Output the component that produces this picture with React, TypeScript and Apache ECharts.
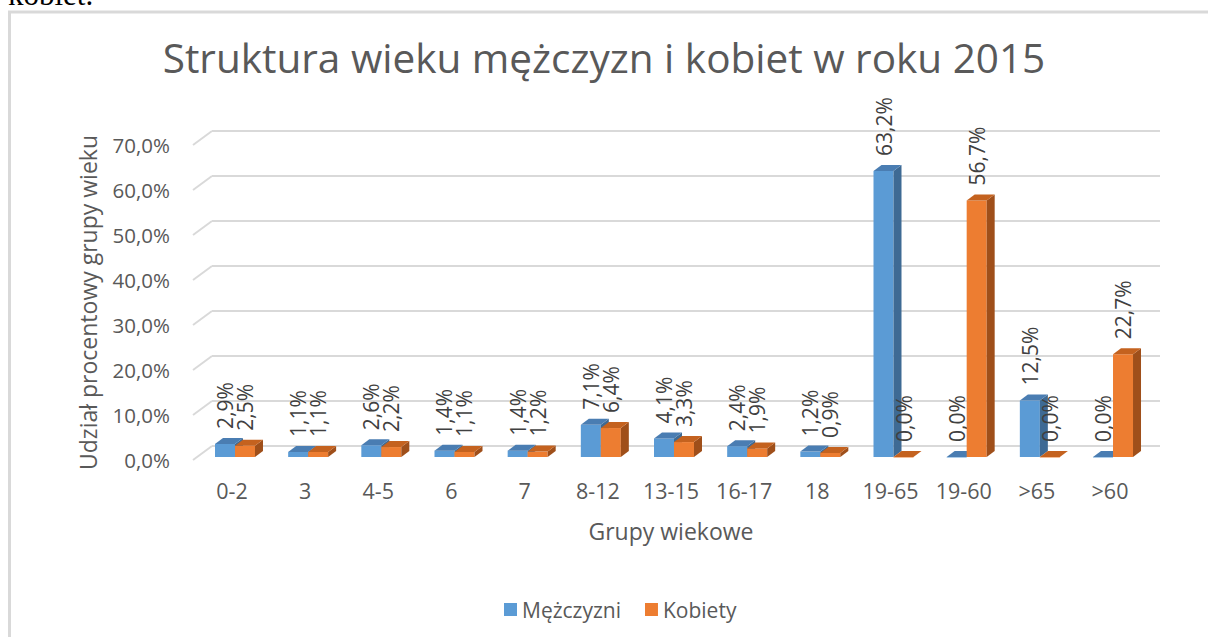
import React, { useEffect, useRef } from "react";
import * as echarts from "echarts";

const categories = ["0-2", "3", "4-5", "6", "7", "8-12", "13-15", "16-17", "18", "19-65", "19-60", ">65", ">60"];
const men = [2.9, 1.1, 2.6, 1.4, 1.4, 7.1, 4.1, 2.4, 1.2, 63.2, 0.0, 12.5, 0.0];
const women = [2.5, 1.1, 2.2, 1.1, 1.2, 6.4, 3.3, 1.9, 0.9, 0.0, 56.7, 0.0, 22.7];
const yTicks = [0, 10, 20, 30, 40, 50, 60, 70];
const seriesNames = ["Mężczyzni", "Kobiety"];
const titleText = "Struktura wieku mężczyzn i kobiet w roku 2015";
const xTitle = "Grupy wiekowe";
const yTitle = "Udział procentowy grupy wieku";

const FONT = "Open Sans";
const W = 1208;
const H = 637;

const palette = [
  { front: "#5B9BD5", top: "#4A7DB2", side: "#3E6A94" },
  { front: "#ED7D31", top: "#C4621F", side: "#9F4F1A" },
];

const fmt = (v: number) => v.toFixed(1).replace(".", ",") + "%";

function barRenderer(sIdx: number) {
  return (params: any, api: any) => {
    const idx = api.value(0);
    const val = api.value(1);
    const base = api.coord([idx, 0]);
    const top = api.coord([idx, val]);
    const cx = base[0] + 3;
    const bw = 20;
    const D = 8;
    const HH = 6;
    const x0 = sIdx === 0 ? cx - bw : cx;
    const yt = top[1];
    const yb = base[1];
    const c = palette[sIdx];
    return {
      type: "group",
      children: [
        {
          type: "rect",
          shape: { x: x0, y: yt, width: bw, height: Math.max(yb - yt, 0.5) },
          style: { fill: c.front },
        },
        {
          type: "polygon",
          shape: { points: [[x0 + bw, yt], [x0 + bw + D, yt - HH], [x0 + bw + D, yb - HH], [x0 + bw, yb]] },
          style: { fill: c.side },
        },
        {
          type: "polygon",
          shape: { points: [[x0, yt], [x0 + bw, yt], [x0 + bw + D, yt - HH], [x0 + D, yt - HH]] },
          style: { fill: c.top },
        },
        {
          type: "text",
          x: x0 + bw / 2,
          y: yt - HH - 9,
          rotation: Math.PI / 2,
          style: {
            text: fmt(val),
            x: 0,
            y: 0,
            align: "left",
            verticalAlign: "middle",
            fill: "#404040",
            font: `21px "${FONT}"`,
          },
        },
      ],
    };
  };
}

export default function App() {
  const ref = useRef<HTMLDivElement>(null);
  useEffect(() => {
    if (!ref.current) return;
    const chart = echarts.init(ref.current, null, { renderer: "svg" });
    const option: any = {
      animation: false,
      backgroundColor: "#ffffff",
      textStyle: { fontFamily: FONT },
      title: {
        text: titleText,
        left: "center",
        top: 32,
        textStyle: { fontFamily: FONT, fontSize: 40.5, fontWeight: "normal", color: "#595959" },
      },
      legend: {
        data: seriesNames.map((n) => ({ name: n, icon: "rect" })),
        left: 499,
        top: 594,
        itemWidth: 13,
        itemHeight: 13,
        itemGap: 24,
        textStyle: { fontFamily: FONT, fontSize: 21, color: "#595959" },
      },
      graphic: [
        {
          type: "rect",
          shape: { x: 9.5, y: 12, width: 1400, height: 900 },
          style: { fill: "none", stroke: "#d9d9d9", lineWidth: 3 },
          silent: true,
        },
        {
          type: "text",
          x: 8,
          y: -6,
          style: { text: "kobiet.", fill: "#000", font: '31px "Liberation Serif"', verticalAlign: "middle", align: "left" },
        },
      ],
      grid: [
        { left: 193, right: W - 1141, top: 145, bottom: H - 460 },
        { left: 212, right: W - 1160, top: 131, bottom: H - 446 },
        { left: 195.4, right: W - 1146.6, top: 140.25, bottom: H - 457 },
      ],
      xAxis: [
        { type: "value", gridIndex: 0, min: 0, max: 1, show: false },
        { type: "value", gridIndex: 1, min: 0, max: 1, show: false },
        {
          type: "category",
          gridIndex: 2,
          data: categories,
          axisLine: { show: false },
          axisTick: { show: false },
          axisLabel: { fontFamily: FONT, fontSize: 21.5, color: "#595959", margin: 22, interval: 0 },
          name: xTitle,
          nameLocation: "middle",
          nameGap: 62,
          nameTextStyle: { fontFamily: FONT, fontSize: 23, color: "#595959" },
        },
      ],
      yAxis: [
        {
          type: "value",
          gridIndex: 0,
          min: 0,
          max: 70,
          interval: 10,
          axisLine: { show: false },
          axisTick: { show: false },
          splitLine: { show: false },
          axisLabel: { fontFamily: FONT, fontSize: 20.5, color: "#595959", margin: 23, formatter: (v: number) => fmt(v) },
          name: yTitle,
          nameLocation: "middle",
          nameGap: 94,
          nameTextStyle: { fontFamily: FONT, fontSize: 23, color: "#595959" },
        },
        {
          type: "value",
          gridIndex: 1,
          min: 0,
          max: 70,
          interval: 10,
          axisLine: { show: false },
          axisTick: { show: false },
          axisLabel: { show: false },
          splitLine: { show: true, lineStyle: { color: "#d9d9d9", width: 2 } },
        },
        {
          type: "value",
          gridIndex: 2,
          min: 0,
          max: 70,
          show: false,
          splitLine: { show: false },
        },
      ],
      series: [
        {
          type: "custom",
          xAxisIndex: 0,
          yAxisIndex: 0,
          silent: true,
          data: yTicks.map((v) => [0, v]),
          encode: { x: 0, y: 1 },
          renderItem: (params: any, api: any) => {
            const p = api.coord([0, api.value(1)]);
            return {
              type: "line",
              shape: { x1: p[0], y1: p[1], x2: p[0] + 19, y2: p[1] - 14 },
              style: { stroke: "#d9d9d9", lineWidth: 2 },
            };
          },
        },
        {
          name: seriesNames[0],
          type: "custom",
          xAxisIndex: 2,
          yAxisIndex: 2,
          itemStyle: { color: palette[0].front },
          data: men.map((v, i) => [i, v]),
          encode: { x: 0, y: 1 },
          renderItem: barRenderer(0),
          z: 3,
        },
        {
          name: seriesNames[1],
          type: "custom",
          xAxisIndex: 2,
          yAxisIndex: 2,
          itemStyle: { color: palette[1].front },
          data: women.map((v, i) => [i, v]),
          encode: { x: 0, y: 1 },
          renderItem: barRenderer(1),
          z: 4,
        },
      ],
    };
    chart.setOption(option);
    return () => chart.dispose();
  }, []);
  return (
    <div
      ref={ref}
      style={{ position: "fixed", left: 0, top: 0, width: W, height: H, background: "#fff" }}
    />
  );
}
